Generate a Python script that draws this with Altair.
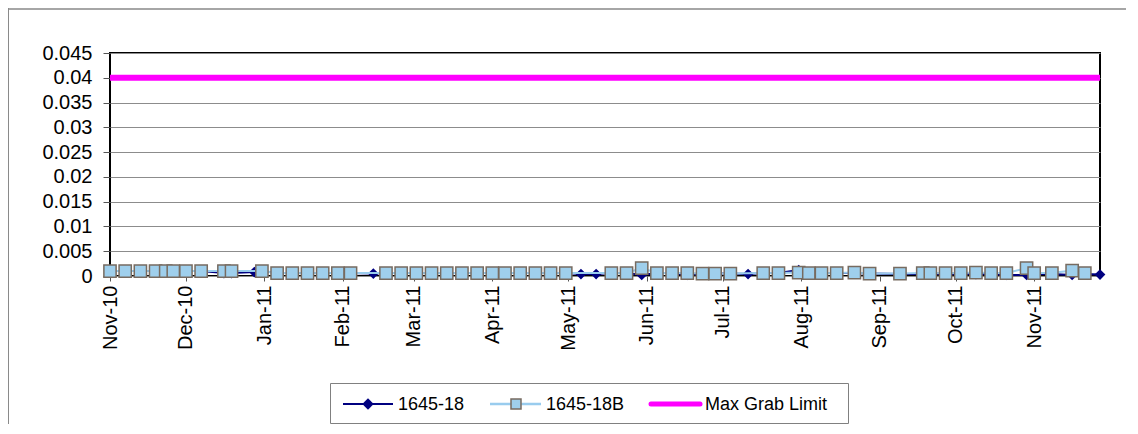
import altair as alt
import pandas as pd

# ---- data ----
b_dates = [
    "2010-11-01", "2010-11-07", "2010-11-13", "2010-11-19", "2010-11-23", "2010-11-26",
    "2010-12-01", "2010-12-07", "2010-12-16", "2010-12-19", "2010-12-31",
    "2011-01-06", "2011-01-12", "2011-01-18", "2011-01-24", "2011-01-30", "2011-02-04",
    "2011-02-18", "2011-02-24", "2011-03-02", "2011-03-08", "2011-03-14", "2011-03-20",
    "2011-03-26", "2011-04-01", "2011-04-06", "2011-04-12", "2011-04-18", "2011-04-24",
    "2011-04-30", "2011-05-18", "2011-05-24", "2011-05-30", "2011-06-05", "2011-06-11",
    "2011-06-17", "2011-06-23", "2011-06-28", "2011-07-04", "2011-07-17", "2011-07-23",
    "2011-07-31", "2011-08-04", "2011-08-09", "2011-08-15", "2011-08-22", "2011-08-28",
    "2011-09-09", "2011-09-18", "2011-09-21", "2011-09-27", "2011-10-03", "2011-10-09",
    "2011-10-15", "2011-10-21", "2011-10-29", "2011-11-01", "2011-11-08", "2011-11-16",
    "2011-11-21",
]
b_values = [
    0.001, 0.001, 0.001, 0.001, 0.001, 0.001,
    0.001, 0.001, 0.001, 0.001, 0.001,
    0.0006, 0.0006, 0.0006, 0.0006, 0.0006, 0.0006,
    0.0006, 0.0006, 0.0006, 0.0006, 0.0006, 0.0006,
    0.0006, 0.0006, 0.0006, 0.0006, 0.0006, 0.0006,
    0.0006, 0.0006, 0.0006, 0.0016, 0.0006, 0.0006,
    0.0006, 0.0005, 0.0005, 0.0005, 0.0006, 0.0006,
    0.0007, 0.0006, 0.0006, 0.0006, 0.0007, 0.0005,
    0.0005, 0.0006, 0.0006, 0.0006, 0.0006, 0.0007,
    0.0006, 0.0006, 0.0016, 0.0006, 0.0006, 0.0011,
    0.0006,
]

a_dates = [
    "2010-11-01", "2010-11-07", "2010-11-13", "2010-11-19", "2010-11-23", "2010-11-26",
    "2010-12-01", "2010-12-07", "2010-12-16", "2010-12-19", "2010-12-28", "2010-12-31",
    "2011-01-06", "2011-01-12", "2011-01-18", "2011-01-24", "2011-01-30", "2011-02-04",
    "2011-02-13", "2011-02-18", "2011-02-24", "2011-03-02", "2011-03-08", "2011-03-14",
    "2011-03-20", "2011-03-26", "2011-04-01", "2011-04-06", "2011-04-12", "2011-04-18",
    "2011-04-24", "2011-04-30", "2011-05-06", "2011-05-12", "2011-05-18", "2011-05-24",
    "2011-05-30", "2011-06-05", "2011-06-11", "2011-06-17", "2011-06-23", "2011-06-28",
    "2011-07-04", "2011-07-11", "2011-07-17", "2011-07-23", "2011-07-31", "2011-08-04",
    "2011-08-09", "2011-08-15", "2011-08-22", "2011-08-28", "2011-09-09", "2011-09-18",
    "2011-09-21", "2011-09-27", "2011-10-03", "2011-10-09", "2011-10-15", "2011-10-21",
    "2011-10-29", "2011-11-01", "2011-11-08", "2011-11-16", "2011-11-21", "2011-11-27",
]
a_values = [
    0.001, 0.001, 0.001, 0.001, 0.001, 0.001,
    0.001, 0.001, 0.0006, 0.0006, 0.0008, 0.001,
    0.0006, 0.0006, 0.0006, 0.0006, 0.0006, 0.0006,
    0.0005, 0.0006, 0.0006, 0.0006, 0.0006, 0.0006,
    0.0006, 0.0006, 0.0006, 0.0006, 0.0006, 0.0006,
    0.0006, 0.0006, 0.0004, 0.0004, 0.0006, 0.0006,
    0.0002, 0.0006, 0.0006, 0.0002, 0.0005, 0.0005,
    0.0005, 0.0004, 0.0006, 0.0006, 0.0012, 0.0006,
    0.0006, 0.0006, 0.0006, 0.0005, 0.0004, 0.0004,
    0.0004, 0.0004, 0.0004, 0.0004, 0.0004, 0.0002,
    0.0002, 0.0004, 0.0004, 0.0002, 0.0004, 0.0003,
]

limit_dates = ["2010-11-01", "2011-11-27"]
limit_values = [0.04, 0.04]

y_ticks = [0, 0.005, 0.01, 0.015, 0.02, 0.025, 0.03, 0.035, 0.04, 0.045]
series_names = ["1645-18", "1645-18B", "Max Grab Limit"]
title_text = "Max Grab Limit = 0.04 mg/L"

NAVY = "#000080"
LIGHT = "#99ccee"
SQ_FILL = "#9fcfec"
SQ_STROKE = "#776b60"
MAGENTA = "#ff00ff"
FONT = "Liberation Sans"

df_a = pd.DataFrame({"date": a_dates, "value": a_values})
df_b = pd.DataFrame({"date": b_dates, "value": b_values})
df_l = pd.DataFrame({"date": limit_dates, "value": limit_values})
one = pd.DataFrame({"k": [0]})

x_scale = alt.Scale(
    type="utc",
    domain=[alt.DateTime(year=2010, month=11, date=1, utc=True),
            alt.DateTime(year=2011, month=11, date=27, utc=True)],
    nice=False,
)
y_scale = alt.Scale(domain=[0, 0.045], nice=False, zero=True)

x_axis = alt.Axis(
    title=None, grid=False, domain=False,
    tickCount={"interval": "month", "step": 1},
    labelExpr="utcFormat(datum.value, '%b-%y')",
    labelAngle=270, labelAlign="right", labelBaseline="middle",
    labelFontSize=20, labelFont=FONT, labelColor="black",
    tickSize=5, tickColor="#555555", labelPadding=4, labelOverlap=False,
)
y_axis = alt.Axis(
    title=None, values=y_ticks, labelExpr="format(datum.value, '~g')",
    grid=True, gridColor="#8c8c8c", gridWidth=1, domain=False,
    labelFontSize=20, labelFont=FONT, labelColor="black",
    tickSize=7, tickColor="#555555", labelPadding=11,
)

X = alt.X("date:T", scale=x_scale, axis=x_axis)
Y = alt.Y("value:Q", scale=y_scale, axis=y_axis)

a_line = alt.Chart(df_a).mark_line(color=NAVY, strokeWidth=2).encode(x=X, y=Y)
a_pts = alt.Chart(df_a).mark_point(
    shape="diamond", filled=True, color=NAVY, size=115, opacity=1
).encode(x=X, y=Y)
b_line = alt.Chart(df_b).mark_line(color=LIGHT, strokeWidth=2).encode(x=X, y=Y)
b_pts = alt.Chart(df_b).mark_point(
    shape="square", filled=True, fill=SQ_FILL, stroke=SQ_STROKE, strokeWidth=1.5,
    size=150, opacity=1
).encode(x=X, y=Y)
lim = alt.Chart(df_l).mark_line(color=MAGENTA, strokeWidth=6).encode(x=X, y=Y)

# ---- legend (drawn) ----
LY = 351
leg_box = alt.Chart(one).mark_rect(fill="white", stroke="#808080", strokeWidth=1).encode(
    x=alt.value(220.5), x2=alt.value(738.5), y=alt.value(330.5), y2=alt.value(370.5))
leg_l1 = alt.Chart(one).mark_rule(color=NAVY, strokeWidth=2).encode(
    x=alt.value(233), x2=alt.value(283), y=alt.value(LY))
leg_p1 = alt.Chart(one).mark_point(shape="diamond", filled=True, color=NAVY, size=130, opacity=1).encode(
    x=alt.value(258), y=alt.value(LY))
leg_l2 = alt.Chart(one).mark_rule(color=LIGHT, strokeWidth=2.5).encode(
    x=alt.value(380), x2=alt.value(431), y=alt.value(LY))
leg_p2 = alt.Chart(one).mark_point(shape="square", filled=True, fill=SQ_FILL, stroke=SQ_STROKE,
                                   strokeWidth=1.5, size=100, opacity=1).encode(
    x=alt.value(406), y=alt.value(LY))
leg_l3 = alt.Chart(one).mark_rule(color=MAGENTA, strokeWidth=5, strokeCap="round").encode(
    x=alt.value(541), x2=alt.value(590), y=alt.value(LY))
leg_texts = []
for name, xpos in zip(series_names, [288, 436, 595]):
    leg_texts.append(
        alt.Chart(one).mark_text(align="left", baseline="middle", fontSize=18, font=FONT,
                                 color="black").encode(
            x=alt.value(xpos), y=alt.value(LY + 1), text=alt.value(name)))

# ---- outer frame and (cropped) title ----
frame_top = alt.Chart(one).mark_rule(color="#a6a6a6", strokeWidth=2).encode(
    x=alt.value(-102), x2=alt.value(1030), y=alt.value(-44))
frame_left = alt.Chart(one).mark_rule(color="#8a8a8a", strokeWidth=1).encode(
    x=alt.value(-101.5), y=alt.value(-45), y2=alt.value(380))
title = alt.Chart(one).mark_text(align="center", baseline="bottom", fontSize=14, fontWeight="bold",
                                 font=FONT, color="black").encode(
    x=alt.value(465), y=alt.value(-46), text=alt.value(title_text))

chart = alt.layer(
    a_line, a_pts, b_line, b_pts, lim,
    leg_box, leg_l1, leg_p1, leg_l2, leg_p2, leg_l3, *leg_texts,
    frame_top, frame_left, title,
).properties(
    width=990, height=223,
    autosize=alt.AutoSizeParams(type="none"),
    padding={"left": 102, "top": 45, "right": 26, "bottom": 148},
    background="white",
).configure_view(stroke="black", strokeWidth=2)

chart.save("out.html", embed_options={"renderer": "svg", "actions": False})
